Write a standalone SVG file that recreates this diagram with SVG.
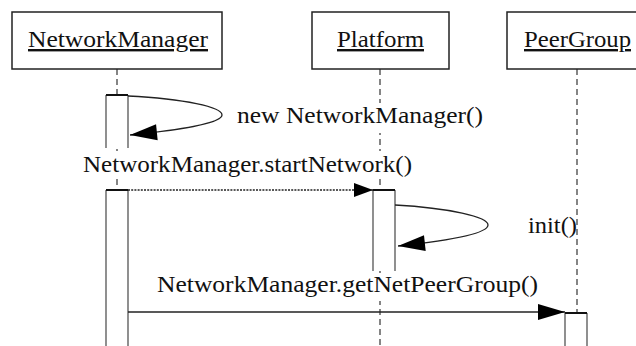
<svg xmlns="http://www.w3.org/2000/svg" width="636" height="346" viewBox="0 0 636 346">
<style>
.box{fill:#fff;stroke:#222;stroke-width:1.5}
.life{stroke:#444;stroke-width:1.3;stroke-dasharray:6,4;fill:none}
.actbg{fill:#fff;stroke:none}
.side{stroke:#555;stroke-width:1.3;fill:none}
.acttop{stroke:#111;stroke-width:2}
.msg{fill:none;stroke:#222;stroke-width:1.3}
.dot{stroke-dasharray:2,1.2;stroke-width:1.6}
text{font-size:24px;fill:#111}
.u{text-decoration:underline}
.bg{fill:#fff}
</style>
<defs>
<marker id="ah" markerUnits="userSpaceOnUse" markerWidth="27" markerHeight="16" refX="27" refY="8" orient="auto" overflow="visible">
<path d="M0,0 L27,8 L0,16 z" fill="#000"/>
</marker>
<marker id="ahs" markerUnits="userSpaceOnUse" markerWidth="19" markerHeight="14" refX="19" refY="7" orient="auto" overflow="visible">
<path d="M0,0 L19,7 L0,14 z" fill="#000"/>
</marker>
</defs>
<rect width="636" height="346" fill="#fff"/>
<g id="lifelines">
<line class="life" x1="117" y1="69" x2="117" y2="346"/>
<line class="life" x1="380" y1="69" x2="380" y2="346"/>
<line class="life" x1="577" y1="69" x2="577" y2="313"/>
</g>
<g font-family="Liberation Serif, DejaVu Serif, serif">
<g id="NetworkManager">
<rect class="box" x="12" y="12" width="210" height="57"/>
<text class="u" x="28" y="47" textLength="180" lengthAdjust="spacingAndGlyphs">NetworkManager</text>
<rect class="actbg" x="106" y="95" width="22" height="53"/>
<path class="side" d="M106,95 V148 M128,95 V148"/>
<line class="acttop" x1="106" y1="95" x2="128" y2="95"/>
<rect class="actbg" x="106" y="190" width="22" height="156"/>
<path class="side" d="M106,190 V346 M128,190 V346"/>
<line class="acttop" x1="106" y1="190" x2="128" y2="190"/>
</g>
<g id="Platform">
<rect class="box" x="312" y="12" width="137" height="57"/>
<text class="u" x="337" y="47" textLength="87" lengthAdjust="spacingAndGlyphs">Platform</text>
<rect class="actbg" x="373" y="190" width="22" height="81"/>
<path class="side" d="M373,190 V271 M395,190 V271"/>
<line class="acttop" x1="373" y1="190" x2="395" y2="190"/>
</g>
<g id="PeerGroup">
<rect class="box" x="507" y="12" width="142" height="57"/>
<text class="u" x="524" y="47" textLength="107" lengthAdjust="spacingAndGlyphs">PeerGroup</text>
<rect class="actbg" x="565" y="313" width="22" height="33"/>
<path class="side" d="M565,313 V346 M587,313 V346"/>
<line class="acttop" x1="565" y1="313" x2="587" y2="313"/>
</g>
<g id="connectors">
<path class="msg" d="M128,96 C185,99 222,107 222,115 C222,123 180,130 130,135" marker-end="url(#ah)"/>
<rect class="bg" x="234" y="103" width="252" height="30"/>
<text x="237" y="123" textLength="246" lengthAdjust="spacingAndGlyphs">new NetworkManager()</text>
<rect class="bg" x="80" y="151" width="336" height="25"/>
<text x="83" y="172" textLength="329" lengthAdjust="spacingAndGlyphs">NetworkManager.startNetwork()</text>
<line class="msg dot" x1="128" y1="190" x2="373" y2="190" marker-end="url(#ahs)"/>
<path class="msg" d="M395,205 C450,208 488,217 488,225 C488,234 445,241 398,246" marker-end="url(#ah)"/>
<text x="528" y="233" textLength="49" lengthAdjust="spacingAndGlyphs">init()</text>
<rect class="bg" x="154" y="273" width="388" height="28"/>
<text x="157" y="292" textLength="381" lengthAdjust="spacingAndGlyphs">NetworkManager.getNetPeerGroup()</text>
<line class="msg" x1="128" y1="312" x2="565" y2="312" marker-end="url(#ah)"/>
</g>
</g>
</svg>
